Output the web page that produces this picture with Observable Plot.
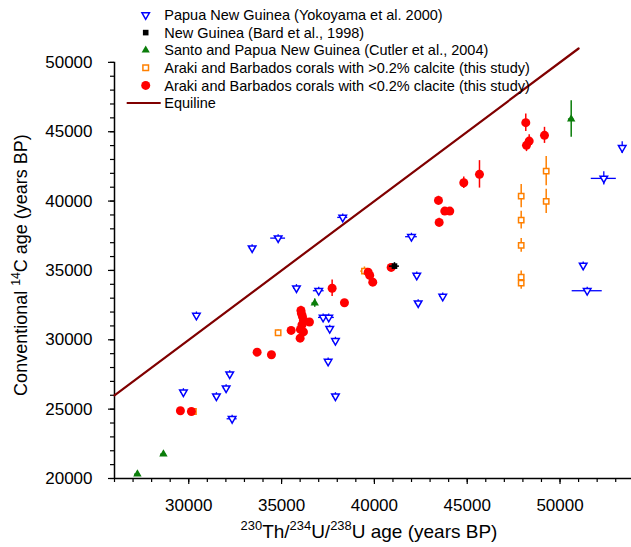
<!DOCTYPE html>
<html><head><meta charset="utf-8">
<script src="https://cdn.jsdelivr.net/npm/d3@7"></script>
<script src="https://cdn.jsdelivr.net/npm/@observablehq/plot@0.6"></script>
<style>
body{margin:0;background:#fff;}
#wrap{position:relative;width:631px;height:547px;}
</style></head><body><div id="wrap"></div>
<script>
// ---- Data ----
// Papua New Guinea (Yokoyama et al. 2000)
const yokX = [33414, 34815, 30413, 35801, 37002, 37239, 37541, 37595, 37902, 37509, 37902, 32207, 32013, 29712, 31490, 32336, 38295, 41997, 42283, 42358, 43683, 51248, 51464, 52358, 53349];
const yokY = [36609, 37330, 31756, 33728, 33537, 31612, 31612, 30796, 29931, 28438, 25935, 27522, 26512, 26224, 25935, 24306, 38823, 37432, 34641, 32643, 33126, 35362, 33537, 41636, 43850];
const yokXerr = [150, 400, 150, 150, 290, 250, 300, 150, 150, 150, 150, 150, 150, 150, 150, 270, 270, 315, 150, 150, 150, 150, 810, 675, 150];
const yokYerr = [250, 250, 250, 250, 250, 250, 250, 250, 250, 250, 250, 250, 250, 250, 250, 250, 250, 250, 250, 250, 250, 250, 250, 480, 420];
// New Guinea (Bard et al., 1998)
const bardX = [41081];
const bardY = [35311];
const bardXerr = [270];
const bardYerr = [250];
// Santo and Papua New Guinea (Cutler et al., 2004)
const cutX = [50602, 36787, 28635, 27234];
const cutY = [45913, 32643, 21753, 20310];
const cutXerr = [150, 150, 150, 150];
const cutYerr = [1320, 300, 150, 150];
// Araki and Barbados corals with >0.2% calcite
const hiX = [39465, 30251, 49255, 49255, 47908, 47908, 47908, 47908, 47908, 34815];
const hiY = [34951, 24832, 42163, 39978, 40361, 38630, 36804, 34518, 34085, 30508];
const hiXerr = [200, 150, 150, 150, 150, 150, 150, 150, 150, 150];
const hiYerr = [300, 150, 1050, 870, 840, 640, 500, 450, 450, 200];
// Araki and Barbados corals with <0.2% calcite
const loX = [48155, 48339, 48193, 49163, 45661, 44815, 43452, 43791, 44061, 43489, 40903, 39664, 39750, 39912, 37724, 38387, 36043, 36070, 36124, 36501, 36178, 36097, 36016, 35515, 36178, 36000, 33683, 34454, 29551, 30143];
const loY = [45654, 44327, 44016, 44737, 41926, 41321, 40049, 39278, 39278, 38463, 35217, 34878, 34640, 34157, 33716, 32672, 32117, 31900, 31683, 31286, 31395, 31071, 30746, 30674, 30566, 30118, 29109, 28921, 24883, 24832];
const loXerr = [150, 150, 150, 150, 150, 150, 150, 150, 150, 150, 150, 150, 150, 150, 150, 150, 150, 150, 150, 150, 150, 150, 150, 150, 150, 150, 150, 150, 150, 150];
const loYerr = [630, 450, 450, 580, 990, 420, 300, 250, 250, 300, 150, 150, 150, 150, 600, 150, 300, 150, 150, 150, 150, 150, 150, 150, 150, 150, 150, 150, 150, 150];
// Equiline
const equiX = [26000, 51000];
const equiY = [26000, 51000];
// Ticks
const xTicks = [30000, 35000, 40000, 45000, 50000];
const yTicks = [20000, 25000, 30000, 35000, 40000, 45000, 50000];
const xMinor = d3.range(26000, 54000, 1000);
const yMinor = d3.range(20000, 51000, 1000);

const legendLabels = [
  "Papua New Guinea (Yokoyama et al. 2000)",
  "New Guinea (Bard et al., 1998)",
  "Santo and Papua New Guinea (Cutler et al., 2004)",
  "Araki and Barbados corals with >0.2% calcite (this study)",
  "Araki and Barbados corals with <0.2% clacite (this study)",
  "Equiline"
];
const colors = {blue: "#0000ff", black: "#000000", green: "#0a7d0a", orange: "#ff8000", red: "#ff0000", line: "#800000"};

// ---- Build tables ----
const mk = (xs, ys, xe, ye) => xs.map((x, i) => ({x, y: ys[i], xe: xe[i], ye: ye[i]}));
const yok = mk(yokX, yokY, yokXerr, yokYerr);
const bard = mk(bardX, bardY, bardXerr, bardYerr);
const cut = mk(cutX, cutY, cutXerr, cutYerr);
const hi = mk(hiX, hiY, hiXerr, hiYerr);
const lo = mk(loX, loY, loXerr, loYerr);
const equi = equiX.map((x, i) => ({x, y: equiY[i]}));

const errMarks = (data, color, w) => [
  Plot.ruleX(data, {x: "x", y1: d => d.y - d.ye, y2: d => d.y + d.ye, stroke: color, strokeWidth: w}),
  Plot.ruleY(data, {y: "y", x1: d => d.x - d.xe, x2: d => d.x + d.xe, stroke: color, strokeWidth: w})
];

const font = '"Liberation Sans", Arial, sans-serif';
const chart = Plot.plot({
  width: 631, height: 547,
  marginTop: 48, marginBottom: 69, marginLeft: 114, marginRight: 0,
  style: {fontFamily: font, fontSize: "17px", background: "white", color: "#000", overflow: "visible"},
  x: {domain: [26000, 53850]},
  y: {domain: [20000, 51000]},
  marks: [
    Plot.axisX({ticks: xMinor, tickSize: 4, tickFormat: () => "", label: null, strokeWidth: 1.2}),
    Plot.axisX({ticks: xTicks, tickSize: 6, tickPadding: 14, tickFormat: d3.format("d"), label: null, fontSize: 17, strokeWidth: 1.2}),
    Plot.axisY({ticks: yMinor, tickSize: 4, tickFormat: () => "", label: null, strokeWidth: 1.2}),
    Plot.axisY({ticks: yTicks, tickSize: 6, tickPadding: 16, tickFormat: d3.format("d"), label: null, fontSize: 17, strokeWidth: 1.2}),
    Plot.ruleY([20000], {stroke: "#000", strokeWidth: 1.5}),
    Plot.ruleX([26000], {y1: 20000, y2: 50000, stroke: "#000", strokeWidth: 1.5}),
    Plot.line(equi, {x: "x", y: "y", stroke: colors.line, strokeWidth: 2.2}),
    ...errMarks(yok, colors.blue, 1.3),
    Plot.dot(yok, {x: "x", y: "y", symbol: "triangle2", rotate: 180, r: 3.6, fill: "white", stroke: colors.blue, strokeWidth: 1.5}),
    ...errMarks(hi, colors.orange, 1.5),
    Plot.dot(hi, {x: "x", y: "y", symbol: "square2", r: 3.4, fill: "white", stroke: colors.orange, strokeWidth: 1.5}),
    ...errMarks(lo, colors.red, 1.5),
    Plot.dot(lo, {x: "x", y: "y", symbol: "circle", r: 4.5, fill: colors.red, stroke: "none"}),
    ...errMarks(cut, colors.green, 1.5),
    Plot.dot(cut, {x: "x", y: "y", symbol: "triangle2", r: 4, fill: colors.green, stroke: "none"}),
    ...errMarks(bard, colors.black, 1.5),
    Plot.dot(bard, {x: "x", y: "y", symbol: "square2", r: 3.6, fill: colors.black, stroke: "none"})
  ]
});
document.getElementById("wrap").appendChild(chart);

// ---- Axis titles and legend (real text) ----
const svg = d3.select(chart);
function supText(g, parts, size) {
  const t = g.append("text").attr("font-family", font).attr("font-size", size).attr("fill", "#000");
  let raised = false;
  parts.forEach(p => {
    const sup = p.sup === true;
    const ts = t.append("tspan").text(p.t);
    if (sup && !raised) { ts.attr("dy", -size * 0.4).attr("font-size", size * 0.68); raised = true; }
    else if (sup) { ts.attr("font-size", size * 0.68); }
    else if (!sup && raised) { ts.attr("dy", size * 0.4); raised = false; }
  });
  return t;
}
supText(svg.append("g").attr("transform", "translate(369,538)"),
  [{t: "230", sup: true}, {t: "Th/"}, {t: "234", sup: true}, {t: "U/"}, {t: "238", sup: true}, {t: "U age (years BP)"}], 19)
  .attr("text-anchor", "middle");
supText(svg.append("g").attr("transform", "translate(27,265) rotate(-90)"),
  [{t: "Conventional "}, {t: "14", sup: true}, {t: "C age (years BP)"}], 18)
  .attr("text-anchor", "middle");

const leg = svg.append("g").attr("text-anchor", "start");
const rowY = i => 15 + i * 17.6;
const sym = (type, size) => d3.symbol().type(type).size(size)();
// symbols
leg.append("path").attr("d", sym(d3.symbolTriangle2, 40)).attr("transform", `translate(145.7,${rowY(0)}) rotate(180)`).attr("fill", "white").attr("stroke", colors.blue).attr("stroke-width", 1.5);
leg.append("path").attr("d", sym(d3.symbolSquare2, 40)).attr("transform", `translate(145.7,${rowY(1)})`).attr("fill", colors.black);
leg.append("path").attr("d", sym(d3.symbolTriangle2, 48)).attr("transform", `translate(145.7,${rowY(2)})`).attr("fill", colors.green);
leg.append("path").attr("d", sym(d3.symbolSquare2, 40)).attr("transform", `translate(145.7,${rowY(3)})`).attr("fill", "white").attr("stroke", colors.orange).attr("stroke-width", 1.5);
leg.append("circle").attr("cx", 145.7).attr("cy", rowY(4)).attr("r", 4.5).attr("fill", colors.red);
leg.append("line").attr("x1", 126.7).attr("x2", 160.7).attr("y1", rowY(5)).attr("y2", rowY(5)).attr("stroke", colors.line).attr("stroke-width", 2.2);
legendLabels.forEach((lab, i) => {
  leg.append("text").attr("x", 164.3).attr("y", rowY(i)).attr("dy", "0.36em").attr("text-anchor", "start")
    .attr("font-family", font).attr("font-size", 14.5).attr("fill", "#000").text(lab);
});
</script>
</body></html>
